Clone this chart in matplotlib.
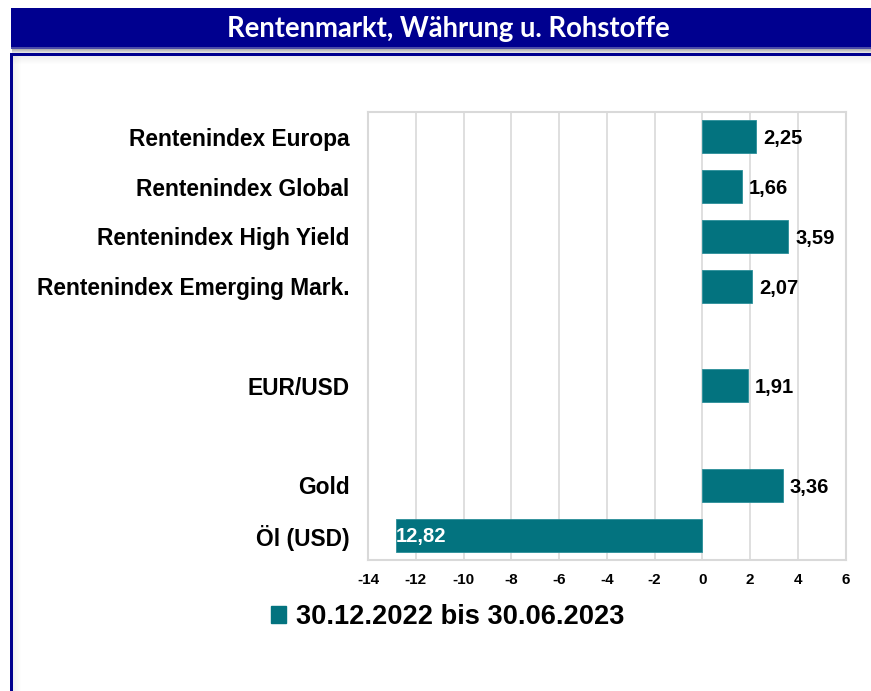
import matplotlib
matplotlib.use("Agg")
import matplotlib.pyplot as plt
from matplotlib.patches import Rectangle, Patch
import numpy as np

# ---- data ----
categories = ["Rentenindex Europa", "Rentenindex Global", "Rentenindex High Yield",
              "Rentenindex Emerging Mark.", "", "EUR/USD", "", "Gold", "Öl (USD)"]
values = [2.25, 1.66, 3.59, 2.07, None, 1.91, None, 3.36, -12.82]
series_name = "30.12.2022 bis 30.06.2023"
title = "Rentenmarkt, Währung u. Rohstoffe"
xticks = [-14, -12, -10, -8, -6, -4, -2, 0, 2, 4, 6]

BAR = "#03737F"
BLUE = "#00008F"
W, H = 871, 691

plt.rcParams['font.family'] = ['Liberation Sans', 'DejaVu Sans']
fig = plt.figure(figsize=(W / 100, H / 100), dpi=100)
fig.patch.set_facecolor("white")

def fx(px):
    return px / W

def fy(py):
    return 1 - py / H

def frect(x0, y0, x1, y1, **kw):
    # pixel rectangle (top-left origin) in figure coords
    fig.patches.append(Rectangle((fx(x0), fy(y1)), fx(x1) - fx(x0), fy(y0) - fy(y1),
                                 transform=fig.transFigure, edgecolor="none", **kw))

# ---- frame with inner soft shadow ----
for i in range(8):
    a = 0.10 * (1 - i / 8)
    frect(13 + i, 56, 14 + i, H, facecolor=(0.45, 0.45, 0.45, a), zorder=0)
    frect(13, 56 + i, W, 57 + i, facecolor=(0.45, 0.45, 0.45, a), zorder=0)
frect(10, 53, 13, H, facecolor=BLUE, zorder=1)
frect(10, 53, W, 55.5, facecolor=BLUE, zorder=1)

# ---- title banner ----
for i in range(4):
    frect(12, 49 + i, W, 50 + i, facecolor=(0.5, 0.5, 0.5, 0.6 - 0.13 * i), zorder=1)
frect(11, 8, W, 48, facecolor=BLUE, zorder=2)
frect(11, 47, W, 49, facecolor="#4B4BA8", zorder=2)
t = fig.text(fx(448), fy(37.5), title, color="white", fontsize=17, fontweight="bold",
             family=["Lato", "DejaVu Sans"], ha="center", va="baseline", zorder=3)
fig.canvas.draw()
bb = t.get_window_extent()
t.set_fontsize(17 * 446 / bb.width)

# ---- axes ----
ax = fig.add_axes([fx(368), fy(560), fx(845.7) - fx(368), fy(112) - fy(560)])
ypos = np.arange(len(categories))
for y, v in zip(ypos, values):
    if v is None:
        continue
    ax.barh(y, v, height=0.66, color=BAR, edgecolor="#2A8F9A", linewidth=0.6, zorder=3)
    lab = f"{abs(v):.2f}".replace(".", ",")
    if v >= 0:
        ax.annotate(lab, (v, y), xytext=(5, -1.5), textcoords="offset points",
                    ha="left", va="center", fontsize=14.5, fontweight="bold", color="black")
    else:
        ax.annotate(lab, (v, y), xytext=(0, -1.0), textcoords="offset points",
                    ha="left", va="center", fontsize=14.5, fontweight="bold", color="white", zorder=4)

ax.set_xlim(-14, 6)
ax.set_ylim(len(categories) - 0.5, -0.5)
ax.set_xticks(xticks)
ax.set_xticklabels([str(x) for x in xticks])
ax.set_yticks(ypos)
ax.set_yticklabels(categories)
ax.tick_params(axis="y", length=0, pad=13.5, labelsize=16.4)
ax.tick_params(axis="x", length=0, pad=9, labelsize=11)
for lbl in ax.get_xticklabels() + ax.get_yticklabels():
    lbl.set_fontweight("bold")
ax.grid(axis="x", color="#D9D9D9", lw=1.2, zorder=0)
ax.set_axisbelow(True)
for s in ax.spines.values():
    s.set_color("#D9D9D9")
    s.set_linewidth(1.5)

# ---- legend ----
fig.legend(handles=[Patch(facecolor=BAR, edgecolor=BAR, label=series_name)],
           loc="center", bbox_to_anchor=(fx(447.5), fy(617)), frameon=False,
           prop={"size": 19.6, "weight": "bold"}, handlelength=0.55, handleheight=0.55,
           handletextpad=0.35)

fig.savefig("out.png", dpi=100, facecolor="white")
